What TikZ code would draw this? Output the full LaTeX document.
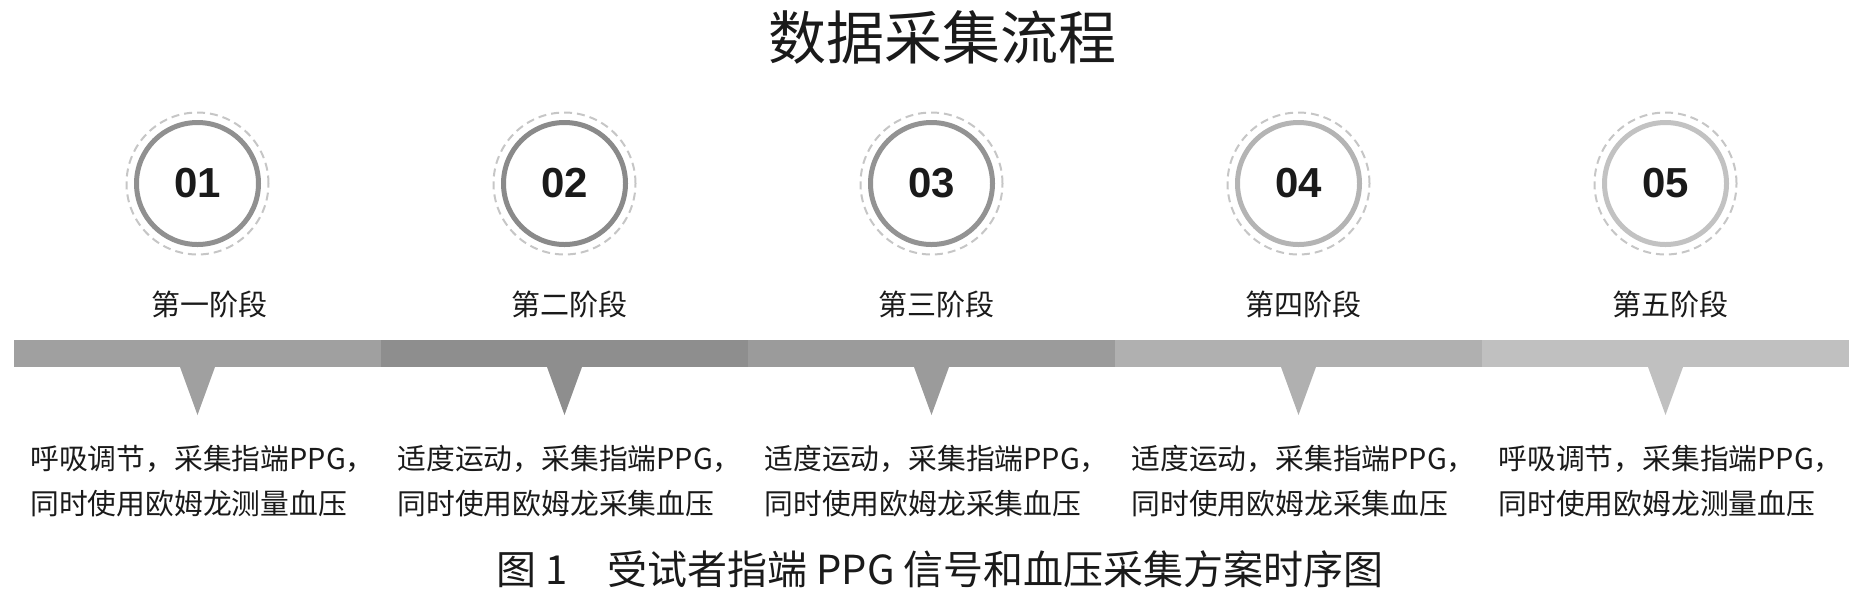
\documentclass[tikz,border=0pt]{standalone}
\usepackage{fontspec}
\setmainfont{Noto Sans CJK SC}
\newfontfamily\numfont{Liberation Sans}
\usetikzlibrary{positioning}

\definecolor{txt}{HTML}{1A1A1A}
\definecolor{halo}{HTML}{C6C6C6}
\definecolor{bar1}{HTML}{A0A0A0}
\definecolor{bar2}{HTML}{8E8E8E}
\definecolor{bar3}{HTML}{9B9B9B}
\definecolor{bar4}{HTML}{B0B0B0}
\definecolor{bar5}{HTML}{C0C0C0}
\definecolor{ring1}{HTML}{909090}
\definecolor{ring2}{HTML}{8A8A8A}
\definecolor{ring3}{HTML}{939393}
\definecolor{ring4}{HTML}{B4B4B4}
\definecolor{ring5}{HTML}{C2C2C2}

\begin{document}
\begin{tikzpicture}[x=0.5pt,y=-0.5pt,
                    stage/.style={circle,draw=#1,line width=2.5pt,minimum size=61pt,inner sep=0pt,
                                  font=\numfont\bfseries\fontsize{21}{21}\selectfont,text=txt},
                    halo/.style={circle,draw=halo,line width=1pt,dash pattern=on 4pt off 2.5pt,
                                 minimum size=71pt,inner sep=0pt},
                    phase/.style={font=\fontsize{14.5}{14.5}\selectfont,text=txt,inner sep=0pt},
                    segbar/.style={fill=#1,minimum width=183.5pt,minimum height=13.5pt,
                                   inner sep=0pt,outer sep=0pt},
                    memo/.style={align=left,anchor=west,font=\fontsize{14.4}{22.5}\selectfont,
                                 text=txt,inner sep=0pt},
                    ]

                    \useasboundingbox (0,0) rectangle (1874,612);

                    \node[font=\fontsize{29}{29}\selectfont,text=txt,inner sep=0pt] (title) at (942,37.5) {数据采集流程};

                    % stages
                    \node[halo] (h1) at (197.5,183.5) {};
                    \node[halo] (h2) at (564.5,183.5) {};
                    \node[halo] (h3) at (931.5,183.5) {};
                    \node[halo] (h4) at (1298.5,183.5) {};
                    \node[halo] (h5) at (1665.5,183.5) {};
                    \node[stage=ring1] (n1) at (h1) {01};
                    \node[stage=ring2] (n2) at (h2) {02};
                    \node[stage=ring3] (n3) at (h3) {03};
                    \node[stage=ring4] (n4) at (h4) {04};
                    \node[stage=ring5] (n5) at (h5) {05};

                    \node[phase,below=22pt of n1,xshift=6pt] (p1) {第一阶段};
                    \node[phase,below=22pt of n2,xshift=2.5pt] (p2) {第二阶段};
                    \node[phase,below=22pt of n3,xshift=2.5pt] (p3) {第三阶段};
                    \node[phase,below=22pt of n4,xshift=2.5pt] (p4) {第四阶段};
                    \node[phase,below=22pt of n5,xshift=2.5pt] (p5) {第五阶段};

                    % time bar
                    \node[segbar=bar1] (s1) at (197.5,353.5) {};
                    \node[segbar=bar2] (s2) at (564.5,353.5) {};
                    \node[segbar=bar3] (s3) at (931.5,353.5) {};
                    \node[segbar=bar4] (s4) at (1298.5,353.5) {};
                    \node[segbar=bar5] (s5) at (1665.5,353.5) {};
                    \fill[bar1] ([xshift=-8.75pt]s1.south) -- ([xshift=8.75pt]s1.south) -- ([yshift=-24pt]s1.south) -- cycle;
                    \fill[bar2] ([xshift=-8.75pt]s2.south) -- ([xshift=8.75pt]s2.south) -- ([yshift=-24pt]s2.south) -- cycle;
                    \fill[bar3] ([xshift=-8.75pt]s3.south) -- ([xshift=8.75pt]s3.south) -- ([yshift=-24pt]s3.south) -- cycle;
                    \fill[bar4] ([xshift=-8.75pt]s4.south) -- ([xshift=8.75pt]s4.south) -- ([yshift=-24pt]s4.south) -- cycle;
                    \fill[bar5] ([xshift=-8.75pt]s5.south) -- ([xshift=8.75pt]s5.south) -- ([yshift=-24pt]s5.south) -- cycle;

                    \node[memo] (m1) at (30,481.5) {呼吸调节，采集指端PPG，\\同时使用欧姆龙测量血压};
                    \node[memo] (m2) at (397,481.5) {适度运动，采集指端PPG，\\同时使用欧姆龙采集血压};
                    \node[memo] (m3) at (764,481.5) {适度运动，采集指端PPG，\\同时使用欧姆龙采集血压};
                    \node[memo] (m4) at (1131,481.5) {适度运动，采集指端PPG，\\同时使用欧姆龙采集血压};
                    \node[memo] (m5) at (1498,481.5) {呼吸调节，采集指端PPG，\\同时使用欧姆龙测量血压};

                    \node[font=\fontsize{20}{20}\selectfont,text=txt,inner sep=0pt] (caption) at (940,569) {图 1　受试者指端 PPG 信号和血压采集方案时序图};

                \end{tikzpicture}
\end{document}
